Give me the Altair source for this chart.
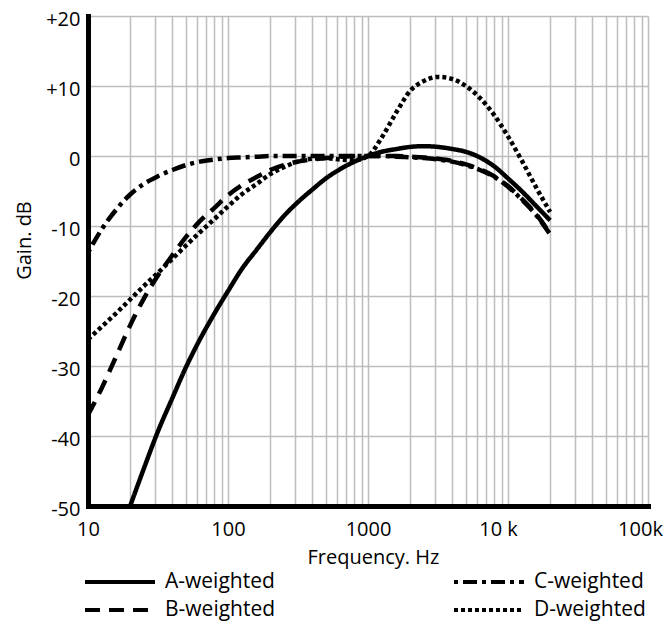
import altair as alt
import pandas as pd

# Frequencies (Hz) at which the curves were read
freqs = [10, 12.5, 16, 20, 25, 31.5, 40, 50, 63, 80, 100, 125, 160, 200, 250, 315,
         400, 500, 630, 800, 1000, 1250, 1600, 2000, 2500, 3150, 4000, 5000, 6300,
         8000, 10000, 12500, 16000, 20000]

# Gain (dB) of each weighting curve (None = outside the plotted range)
a_weighted = [None, None, None, -50.0, -44.7, -39.4, -34.6, -30.2, -26.2, -22.5, -19.3,
              -16.2, -13.4, -10.9, -8.6, -6.6, -4.8, -3.2, -1.9, -0.8, 0.0, 0.6, 1.0,
              1.3, 1.4, 1.3, 1.0, 0.6, -0.2, -1.5, -3.2, -5.0, -7.2, -9.2]
b_weighted = [-37.0, -33.2, -28.5, -24.2, -20.4, -17.1, -14.2, -11.6, -9.3, -7.4, -5.6,
              -4.2, -3.0, -2.0, -1.3, -0.8, -0.5, -0.3, -0.1, 0.0, 0.0, 0.0, 0.0, -0.1,
              -0.2, -0.4, -0.7, -1.2, -1.9, -2.9, -4.3, -6.1, -8.4, -11.1]
c_weighted = [-13.8, -10.5, -7.6, -5.5, -4.0, -2.9, -2.0, -1.3, -0.8, -0.5, -0.3, -0.2,
              -0.1, 0.0, 0.0, 0.0, 0.0, 0.0, 0.0, 0.0, 0.0, 0.0, -0.1, -0.2, -0.3, -0.5,
              -0.8, -1.3, -2.0, -3.0, -4.4, -6.2, -8.5, -11.2]
d_weighted = [-26.2, -24.4, -22.4, -20.5, -18.6, -16.7, -14.7, -12.8, -10.9, -9.0, -7.2,
              -5.5, -4.0, -2.6, -1.6, -0.8, -0.4, -0.3, -0.5, -0.6, 0.0, 2.6, 6.3, 9.3,
              10.7, 11.3, 11.0, 10.0, 8.3, 5.8, 2.8, -0.6, -4.6, -8.0]

series_names = ["A-weighted", "B-weighted", "C-weighted", "D-weighted"]

x_tick_values = [10, 100, 1000, 10000, 100000]
x_tick_labels = ["10", "100", "1000", "10 k", "100k"]
y_tick_values = [-50, -40, -30, -20, -10, 0, 10, 20]

rows = []
for name, vals in zip(series_names, [a_weighted, b_weighted, c_weighted, d_weighted]):
    for f, v in zip(freqs, vals):
        if v is not None:
            rows.append({"series": name, "freq": f, "gain": v})
df = pd.DataFrame(rows)

grid_values = [m * 10 ** e for e in range(1, 5) for m in range(1, 10)] + [100000]
label_expr = "".join(f"datum.value == {v} ? '{l}' : " for v, l in zip(x_tick_values, x_tick_labels)) + "''"

dash_styles = {
    "A-weighted": [1, 0],
    "B-weighted": [15, 9],
    "C-weighted": [4, 5, 14, 5],
    "D-weighted": [4, 3],
}

FONT = "Open Sans"

chart = alt.Chart(df).mark_line(
    strokeWidth=4.5, color="black", interpolate="monotone", clip=True
).encode(
    x=alt.X(
        "freq:Q",
        scale=alt.Scale(type="log", domain=[10, 100000], nice=False),
        axis=alt.Axis(
            values=grid_values, labelExpr=label_expr, title="Frequency. Hz",
            grid=True, gridColor="#bdbdbd", gridWidth=1.5,
            ticks=False, tickSize=0, labelFlush=False, labelOverlap=False,
            domainColor="black", domainWidth=5, domainCap="square",
            labelFont=FONT, labelFontSize=20, labelColor="black",
            labelBaseline="alphabetic", labelPadding=29,
            labelOffset={"condition": [{"test": "datum.value == 10000", "value": -10},
                                       {"test": "datum.value == 100000", "value": -8}],
                         "value": 0},
            titleFont=FONT, titleFontSize=20, titleFontWeight="normal", titleColor="black",
            titleX=285, titleY=57, titleAlign="center", titleBaseline="alphabetic",
        ),
    ),
    y=alt.Y(
        "gain:Q",
        scale=alt.Scale(domain=[-50, 20], nice=False, zero=False),
        axis=alt.Axis(
            values=y_tick_values,
            labelExpr="datum.value > 0 ? '+' + datum.value : '' + datum.value",
            title="Gain. dB",
            grid=True, gridColor="#bdbdbd", gridWidth=1.5,
            ticks=False, tickSize=0, labelOverlap=False,
            domainColor="black", domainWidth=5, domainCap="square",
            labelFont=FONT, labelFontSize=20, labelColor="black", labelPadding=8,
            labelOffset=3,
            titleFont=FONT, titleFontSize=20, titleFontWeight="normal", titleColor="black",
            titleX=-64, titleY=224, titleAngle=270, titleAlign="center", titleBaseline="middle",
        ),
    ),
    strokeDash=alt.StrokeDash(
        "series:N",
        sort=series_names,
        scale=alt.Scale(domain=series_names, range=[dash_styles[s] for s in series_names]),
        legend=alt.Legend(
            title=None, orient="none", legendX=-5, legendY=552, columns=2,
            clipHeight=28, rowPadding=0, columnPadding=176, padding=0,
            symbolType="stroke", symbolSize=4900, symbolStrokeWidth=4,
            symbolStrokeColor="black", labelFont=FONT, labelFontSize=21,
            labelColor="black", labelOffset=8, labelLimit=300,
        ),
    ),
).properties(
    width=560,
    height=490,
    autosize=alt.AutoSizeParams(type="none"),
    padding={"left": 88, "top": 16, "right": 16, "bottom": 115},
    background="white",
).configure_view(stroke=None)

chart.save("out.html", embed_options={"renderer": "svg", "actions": False})
